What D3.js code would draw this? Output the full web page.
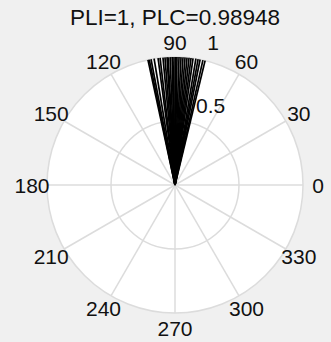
<!DOCTYPE html>
<html>
<head>
<meta charset="utf-8">
<script src="https://cdn.jsdelivr.net/npm/d3@7"></script>
<style>
  body { margin: 0; background: #f0f0f0; }
  svg { display: block; }
  text { font-family: "Liberation Sans", Arial, Helvetica, sans-serif; fill: #111; }
</style>
</head>
<body>
<div id="chart"></div>
<script>
const titleText = "PLI=1, PLC=0.98948";

// phase angles of each trial, degrees (all with unit length)
const phaseDeg = [102.2, 101.6, 100.8, 99.4, 97.6, 96.7, 95.4, 94.5, 93.6, 93.1,
  92.2, 91.3, 90.9, 90.0, 89.6, 89.1, 88.2, 87.3, 86.4, 85.5,
  84.6, 83.7, 82.8, 81.9, 80.6, 79.6, 78.7, 77.4, 76.4];
const vecLength = phaseDeg.map(() => 1);

const thetaTicks = [0, 30, 60, 90, 120, 150, 180, 210, 240, 270, 300, 330];
const rTicks = [0.5, 1];
const rTickLabels = ["0.5", "1"];
const rAxisAngle = 80;

const width = 331, height = 342;
const cx = 175, cy = 185;

const r = d3.scaleLinear().domain([0, 1]).range([0, 128]);
// d3 radial angle: 0 at 12 o'clock, clockwise
const toRad = (deg) => (90 - deg) * Math.PI / 180;

const svg = d3.select("#chart").append("svg")
  .attr("width", width)
  .attr("height", height);

svg.append("text")
  .attr("x", cx)
  .attr("y", 25)
  .attr("text-anchor", "middle")
  .style("font-size", "22.5px")
  .text(titleText);

const g = svg.append("g").attr("transform", `translate(${cx},${cy})`);

g.append("circle").attr("r", r(1)).attr("fill", "#fff");

const radial = d3.lineRadial().angle(d => toRad(d[0])).radius(d => r(d[1]));

// spokes
g.selectAll(".spoke").data(thetaTicks).join("path")
  .attr("class", "spoke")
  .attr("d", t => radial([[t, 0], [t, 1]]))
  .attr("stroke", "#dcdcdc")
  .attr("stroke-width", 1.5);

g.selectAll(".ring").data(rTicks).join("circle")
  .attr("class", "ring")
  .attr("r", d => r(d))
  .attr("fill", "none")
  .attr("stroke", "#dcdcdc")
  .attr("stroke-width", 1.5);

// data vectors
g.selectAll(".vec").data(phaseDeg).join("path")
  .attr("class", "vec")
  .attr("d", (t, i) => radial([[t, 0], [t, vecLength[i]]]))
  .attr("stroke", "#000")
  .attr("stroke-width", 1.7)
  .attr("fill", "none");

// angle labels
const labelR = r(1) + 15;
g.selectAll(".tlab").data(thetaTicks).join("text")
  .attr("class", "tlab")
  .attr("x", t => labelR * Math.sin(toRad(t)))
  .attr("y", t => -labelR * Math.cos(toRad(t)))
  .attr("text-anchor", "middle")
  .attr("dominant-baseline", "central")
  .style("font-size", "21px")
  .text(t => t);

// radius labels
g.selectAll(".rlab").data(rTicks).join("text")
  .attr("class", "rlab")
  .attr("x", d => r(d) * Math.sin(toRad(rAxisAngle)) + 10)
  .attr("y", d => -r(d) * Math.cos(toRad(rAxisAngle)) - 16)
  .attr("dominant-baseline", "central")
  .style("font-size", "21px")
  .text((d, i) => rTickLabels[i]);
</script>
</body>
</html>
